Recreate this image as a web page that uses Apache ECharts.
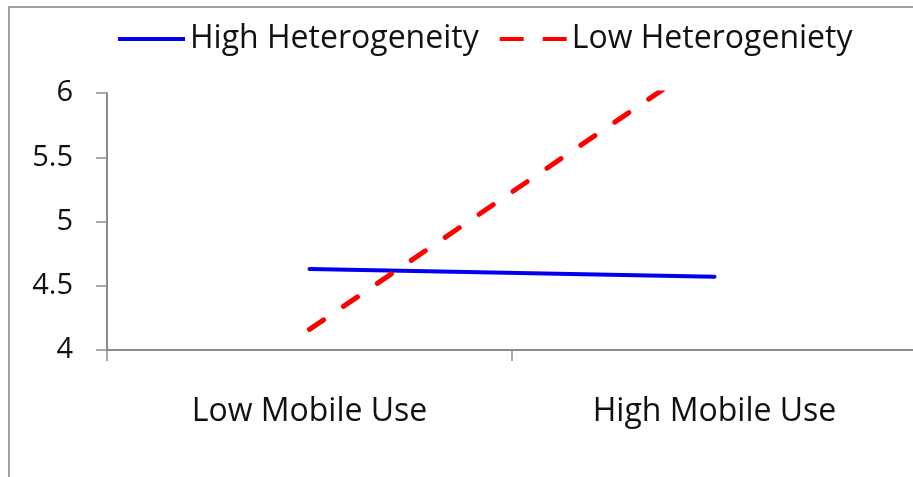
<!DOCTYPE html>
<html>
<head>
<meta charset="utf-8">
<script src="https://cdn.jsdelivr.net/npm/echarts@6/dist/echarts.min.js"></script>
<style>
html,body{margin:0;padding:0;background:#fff;}
#c{width:913px;height:477px;}
</style>
</head>
<body>
<div id="c"></div>
<script>
var categories = ['Low Mobile Use', 'High Mobile Use'];
var highHeterogeneity = [4.63, 4.57];
var lowHeterogeneity = [4.16, 6.30];
var yTicks = { min: 4, max: 6, interval: 0.5 };

var chart = echarts.init(document.getElementById('c'));
var font = 'Open Sans';
chart.setOption({
  animation: false,
  backgroundColor: '#fff',
  graphic: [{
    type: 'rect',
    shape: { x: 9, y: 7, width: 1000, height: 1000 },
    style: { fill: 'none', stroke: '#a0a0a0', lineWidth: 2 },
    silent: true
  }],
  legend: {
    left: 113,
    top: 18,
    itemWidth: 67,
    itemHeight: 4,
    itemGap: 21,
    textStyle: { fontFamily: font, fontSize: 32, color: '#111' },
    data: [
      { name: 'High Heterogeneity', icon: 'path://M0,0 h67 v4 h-67 z' },
      { name: 'Low Heterogeniety', icon: 'path://M0,0 h24 v4 h-24 z M43,0 h24 v4 h-24 z' }
    ]
  },
  grid: { left: 107, width: 810, top: 93, bottom: 127, containLabel: false, outerBoundsMode: 'none' },
  xAxis: {
    type: 'category',
    data: categories,
    boundaryGap: true,
    axisLine: { lineStyle: { color: '#8c8c8c', width: 2 } },
    axisTick: { show: true, length: 11, lineStyle: { color: '#8c8c8c', width: 1.5 } },
    axisLabel: { fontFamily: font, fontSize: 32, color: '#111', margin: 46 },
    splitLine: { show: false }
  },
  yAxis: {
    type: 'value',
    min: yTicks.min,
    max: yTicks.max,
    interval: yTicks.interval,
    axisLine: { show: true, lineStyle: { color: '#8c8c8c', width: 2 } },
    axisTick: { show: true, length: 11, lineStyle: { color: '#8c8c8c', width: 1.5 } },
    axisLabel: { fontFamily: font, fontSize: 29, color: '#111', margin: 34 },
    splitLine: { show: false }
  },
  series: [{
    name: 'High Heterogeneity',
    type: 'line',
    data: highHeterogeneity,
    symbol: 'none',
    lineStyle: { color: '#0000ee', width: 4, cap: 'round' },
    itemStyle: { color: '#0000ee' },
    clip: true
  }, {
    name: 'Low Heterogeniety',
    type: 'line',
    data: lowHeterogeneity,
    symbol: 'none',
    lineStyle: { color: '#ff0000', width: 5, type: [17, 24], cap: 'round' },
    itemStyle: { color: '#ff0000' },
    clip: true
  }]
});
</script>
</body>
</html>
